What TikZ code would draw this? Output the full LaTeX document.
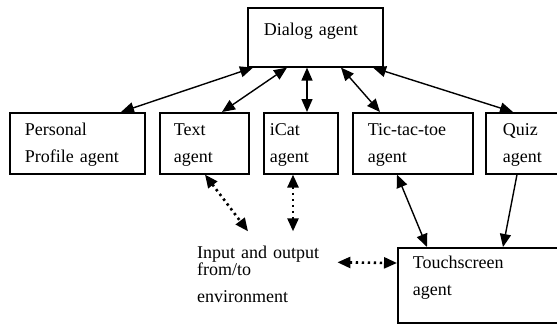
\documentclass[tikz,border=0pt]{standalone}
\usepackage{fontspec}
\setmainfont{Liberation Serif}
\usepackage{tikz}
\usetikzlibrary{arrows.meta}

\tikzset{
    agent/.style={draw,line width=1.6pt,anchor=north west,align=left,
        inner ysep=0pt,text height=23pt,text depth=38pt},
    link/.style={line width=1.4pt},
    dots/.style={line width=2.6pt,dash pattern=on 2.4pt off 3.6pt}
}

\begin{document}
\begin{tikzpicture}[x=1pt,y=-1pt,>={Triangle[length=13pt,width=11pt]},
                        font=\fontsize{18}{27}\selectfont]
                        \useasboundingbox (0,0) rectangle (557,324);
                        \node[agent,inner xsep=16pt,text width=103pt,text height=28pt,text depth=31pt]
                            (dialog) at (247,7) {Dialog agent};
                        \node[agent,inner xsep=15pt,text width=105pt] (personal) at (9,112)
                            {Personal\\Profile agent};
                        \node[agent,inner xsep=14pt,text width=61pt] (text) at (159,112)
                            {Text\\agent};
                        \node[agent,inner xsep=6pt,text width=62pt] (icat) at (263,112)
                            {iCat\\agent};
                        \node[agent,inner xsep=15pt,text width=90pt] (tictac) at (352,112)
                            {Tic-tac-toe\\agent};
                        \node[agent,inner xsep=17pt,text width=60pt] (quiz) at (485,112)
                            {Quiz\\agent};
                        \node[agent,inner xsep=15pt,text width=150pt,text height=21pt,text depth=54pt]
                            (touch) at (397,247) {Touchscreen\\agent};
                        \node[anchor=base west,align=left,inner sep=0pt,text width=140pt]
                            (env) at (197,258) {Input and output\\[-10pt]from/to\\environment};
                        \draw[link,<->] ([xshift=6]dialog.south west) -- ([xshift=112]personal.north west);
                        \draw[link,<->] ([xshift=40]dialog.south west) -- ([xshift=63]text.north west);
                        \draw[link,<->] ([xshift=60]dialog.south west) -- ([xshift=44]icat.north west);
                        \draw[link,<->] ([xshift=94]dialog.south west) -- ([xshift=28]tictac.north west);
                        \draw[link,<->] ([xshift=126]dialog.south west) -- ([xshift=28]quiz.north west);
                        \draw[dots,<->] ([xshift=46]text.south west) -- ([xshift=51,yshift=14]env.north west);
                        \draw[dots,<->] ([xshift=30]icat.south west) -- ([xshift=96,yshift=14]env.north west);
                        \draw[dots,<->] ([yshift=-17]env.north east) -- ([yshift=-16]touch.north west);
                        \draw[link,<->] ([xshift=45]tictac.south west) -- ([xshift=30]touch.north west);
                        \draw[link,->] ([xshift=32]quiz.south west) -- ([xshift=106]touch.north west);
                    \end{tikzpicture}
\end{document}
